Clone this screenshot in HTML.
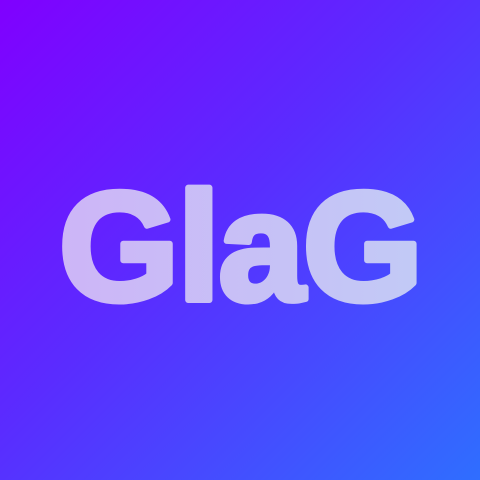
<!DOCTYPE html>
<html>
<head>
<meta charset="utf-8">
<style>
  html,body{margin:0;padding:0;}
  body{width:480px;height:480px;overflow:hidden;}
  .bg{position:absolute;left:0;top:0;width:480px;height:480px;
      background:linear-gradient(135deg,#8000ff 0%,#5a2cff 45%,#2f6eff 100%);}
  .logo{position:absolute;left:0;top:0;width:480px;height:480px;}
</style>
</head>
<body>
<div class="bg">
  <svg class="logo" width="480" height="480" viewBox="0 0 480 480">
    <defs>
      <linearGradient id="tg" x1="0" y1="0" x2="1" y2="0">
        <stop offset="0" stop-color="#cdb5f7"/>
        <stop offset="1" stop-color="#c2caf6"/>
      </linearGradient>
    </defs>
    <text x="240" y="300" text-anchor="middle" font-family="'Liberation Sans', sans-serif"
          font-weight="bold" font-size="155" letter-spacing="-2" fill="url(#tg)"
          stroke="url(#tg)" stroke-width="6" stroke-linejoin="round"
         >GlaG</text>
  </svg>
</div>
</body>
</html>
